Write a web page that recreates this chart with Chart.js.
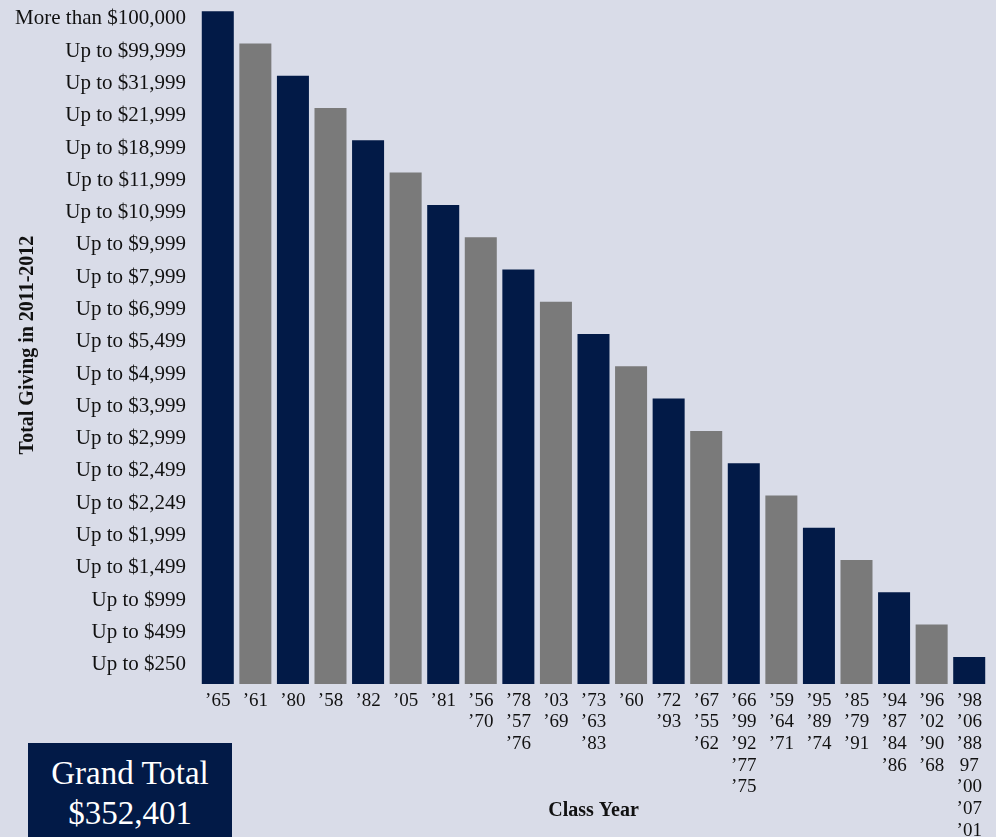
<!DOCTYPE html>
<html>
<head>
<meta charset="utf-8">
<script src="https://cdn.jsdelivr.net/npm/chart.js@4"></script>
<style>
  body { margin: 0; background: #d9dce8; }
  #wrap { position: relative; width: 996px; height: 837px; }
  #total {
    position: absolute; left: 28px; top: 743px; width: 204px; height: 94px;
    background: #021a47; color: #fff; text-align: center;
    font-family: "Liberation Serif", serif; font-size: 33px; line-height: 40px;
    box-sizing: border-box; padding-top: 10px;
  }
</style>
</head>
<body>
<div id="wrap">
  <canvas id="myChart1" width="996" height="837"></canvas>
  <div id="total">Grand Total<br>$352,401</div>
</div>
<script>
// giving brackets, lowest first
const levels = [
  "Up to $250", "Up to $499", "Up to $999", "Up to $1,499", "Up to $1,999",
  "Up to $2,249", "Up to $2,499", "Up to $2,999", "Up to $3,999", "Up to $4,999",
  "Up to $5,499", "Up to $6,999", "Up to $7,999", "Up to $9,999", "Up to $10,999",
  "Up to $11,999", "Up to $18,999", "Up to $21,999", "Up to $31,999", "Up to $99,999",
  "More than $100,000",
];

// class years grouped per bar
const classYears = [
  ["’65"], ["’61"], ["’80"], ["’58"], ["’82"], ["’05"], ["’81"],
  ["’56", "’70"], ["’78", "’57", "’76"], ["’03", "’69"], ["’73", "’63", "’83"],
  ["’60"], ["’72", "’93"], ["’67", "’55", "’62"], ["’66", "’99", "’92", "’77", "’75"],
  ["’59", "’64", "’71"], ["’95", "’89", "’74"], ["’85", "’79", "’91"],
  ["’94", "’87", "’84", "’86"], ["’96", "’02", "’90", "’68"],
  ["’98", "’06", "’88", "97", "’00", "’07", "’01"],
];

// bracket index (into levels) reached by each bar
const bracket = [20, 19, 18, 17, 16, 15, 14, 13, 12, 11, 10, 9, 8, 7, 6, 5, 4, 3, 2, 1, 0];

const navy = "#021a47";
const gray = "#7a7a7a";
const serif = "'Liberation Serif', serif";

const chart1 = document.getElementById("myChart1");
new Chart(chart1, {
  type: "bar",
  data: {
    labels: classYears,
    datasets: [
      {
        data: bracket.map((b) => b + 0.84),
        backgroundColor: bracket.map((b, i) => (i % 2 === 0 ? navy : gray)),
        barPercentage: 0.852,
        categoryPercentage: 1,
      },
    ],
  },
  options: {
    responsive: false,
    animation: false,
    layout: { padding: { top: 6, right: 8, left: 0, bottom: 0 } },
    plugins: {
      legend: { display: false },
      tooltip: { enabled: false },
    },
    scales: {
      x: {
        grid: { display: false },
        border: { display: false },
        ticks: {
          color: "#111",
          font: { family: serif, size: 19, lineHeight: 1.14 },
          padding: -2,
          maxRotation: 0,
          autoSkip: false,
        },
        title: {
          display: true,
          text: "Class Year",
          color: "#111",
          font: { family: serif, size: 20, weight: "bold" },
          padding: { top: 0, bottom: 14 },
        },
        afterFit: (scale) => {
          scale.height = 153;
          scale.paddingLeft = 0;
          scale.paddingRight = 0;
        },
      },
      y: {
        min: 0,
        max: 21,
        grid: { display: false },
        border: { display: false },
        afterBuildTicks: (axis) => {
          axis.ticks = levels.map((_, k) => ({ value: k + 0.6 }));
        },
        ticks: {
          color: "#111",
          font: { family: serif, size: 21 },
          padding: 5,
          autoSkip: false,
          callback: function (value) {
            return levels[Math.round(value - 0.6)];
          },
        },
        title: {
          display: true,
          text: "Total Giving in 2011-2012",
          color: "#111",
          font: { family: serif, size: 20, weight: "bold" },
          padding: { top: 16, bottom: 0 },
        },
        afterFit: (scale) => {
          scale.width = 199;
          scale.paddingTop = 0;
          scale.paddingBottom = 0;
        },
      },
    },
  },
});
</script>
</body>
</html>
